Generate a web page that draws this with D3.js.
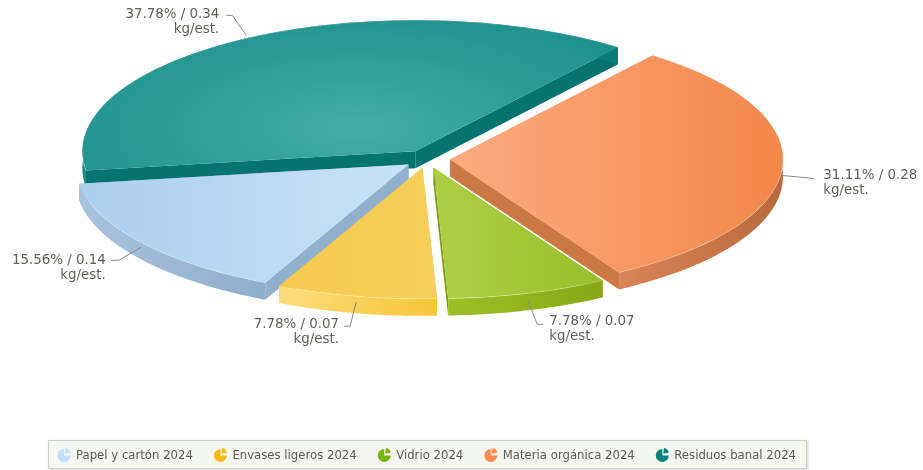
<!DOCTYPE html>
<html><head><meta charset="utf-8">
<script src="https://cdn.jsdelivr.net/npm/d3@7"></script>
<style>html,body{margin:0;padding:0;background:#fff}svg{display:block;filter:blur(.35px)}text{font-family:"DejaVu Sans",sans-serif}</style>
</head><body><svg id="c" width="923" height="470"></svg>
<script>
const categories = ["Papel y cartón 2024","Envases ligeros 2024","Vidrio 2024","Materia orgánica 2024","Residuos banal 2024"];
const kgValues = [0.14,0.07,0.07,0.28,0.34];
const pctLabels = ["15.56%","7.78%","7.78%","31.11%","37.78%"];
const valueLabels = ["0.14","0.07","0.07","0.28","0.34"];
const pctValues = [15.56,7.78,7.78,31.11,37.78];
const unit = "kg/est.";
const legendColors = ["#BFDFFB","#FDB913","#7CB40F","#FA8C4E","#0A7F7B"];
const topFrom = ["#AACFEE","#F6CB4E","#AECE45","#FBAC7F","#44ABA8"];
const topTo = ["#C9E3F8","#F6D05C","#99BF2A","#F4874A","#1C918D"];
const wallFrom = ["#A9C3DD","#FCDD7E","#9CC026","#D98556","#128C87"];
const wallTo = ["#8FAECD","#F6C638","#86A816","#B86A3C","#087C78"];
const sideColors = ["#90B0CE","#E8BC40","#7C9C14","#CC7845","#05736F"];

const svg = d3.select("#c");
const defs = svg.append("defs");
const cx = 427, cy = 159, rx = 333, ry = 131, depth = 17, explode = 23;
const k = ry / rx;
const deg = Math.PI / 180;
const start = 261.5 * deg;
const pie = d3.pie().sort(null).value(d => d).startAngle(start).endAngle(start - 2 * Math.PI);
const arcs = pie(pctValues);
const arcGen = d3.arc().innerRadius(0).outerRadius(rx);
const line = d3.line();

const slices = arcs.map((a, i) => {
  const mid = (a.startAngle + a.endAngle) / 2;
  const ax = cx + explode * Math.sin(mid);
  const ay = cy - explode * k * Math.cos(mid);
  const pt = t => [ax + rx * Math.sin(t), ay - ry * Math.cos(t)];
  return {a, i, mid, ax, ay, pt};
});

function linGrad(id, x1, x2, y1, y2, c1, c2) {
  const g = defs.append("linearGradient").attr("id", id).attr("gradientUnits", "userSpaceOnUse")
    .attr("x1", x1).attr("x2", x2).attr("y1", y1).attr("y2", y2);
  g.append("stop").attr("offset", 0).attr("stop-color", c1);
  g.append("stop").attr("offset", 1).attr("stop-color", c2);
}
const rg = defs.append("radialGradient").attr("id", "topTeal").attr("gradientUnits", "userSpaceOnUse")
  .attr("cx", -60).attr("cy", -60).attr("r", rx);
rg.append("stop").attr("offset", 0).attr("stop-color", topFrom[4]);
rg.append("stop").attr("offset", 1).attr("stop-color", topTo[4]);

// painter's order: back slice first
const order = [4, 3, 0, 1, 2];
order.forEach(i => {
  const s = slices[i], a = s.a;
  const g = svg.append("g");
  const t0 = Math.min(a.startAngle, a.endAngle), t1 = Math.max(a.startAngle, a.endAngle);
  const samples = d3.range(0, 61).map(j => s.pt(t0 + (t1 - t0) * j / 60));
  // radial walls
  [t0, t1].forEach(t => {
    const p = s.pt(t);
    const wall = [[s.ax, s.ay], p, [p[0], p[1] + depth], [s.ax, s.ay + depth]];
    g.append("path").attr("d", line(wall) + "Z").attr("fill", sideColors[i]);
  });
  // outer rim
  const xs = samples.map(p => p[0]);
  linGrad("rim" + i, d3.min(xs), d3.max(xs), 0, 0, wallFrom[i], wallTo[i]);
  const rim = samples.concat(samples.slice().reverse().map(p => [p[0], p[1] + depth]));
  g.append("path").attr("d", line(rim) + "Z").attr("fill", `url(#rim${i})`);
  // top face
  const topId = i === 4 ? "topTeal" : "top" + i;
  if (i !== 4) {
    const local = [s.pt(t0), s.pt(t1), [s.ax, s.ay]].map(p => p[0] - s.ax);
    linGrad(topId, i === 3 ? 0 : d3.min(local), i === 3 ? rx : d3.max(local), 0, 0, topFrom[i], topTo[i]);
  }
  g.append("path")
    .attr("transform", `translate(${s.ax},${s.ay}) scale(1,${k})`)
    .attr("d", arcGen({startAngle: a.startAngle, endAngle: a.endAngle}))
    .attr("fill", `url(#${topId})`);
  // soft highlight on rim's upper edge
  g.append("path").attr("d", line(samples)).attr("fill", "none")
    .attr("stroke", "#fff").attr("stroke-opacity", .22).attr("stroke-width", 1);
});

// leader lines and labels; offsets are relative to each slice's rim point
const leaderLayout = [
  {dy: 5,  knee: [-22, 13], end: [-30, 13], tx: -35, ty: 17, anchor: "end"},
  {dy: 6,  knee: [-6, 24],  end: [-12, 24], tx: -17, ty: 26, anchor: "end"},
  {dy: 8,  knee: [9, 23],   end: [15, 23],  tx: 21,  ty: 24, anchor: "start"},
  {dy: 8,  knee: [32, 3],   end: [32, 3],   tx: 41,  ty: 3, anchor: "start"},
  {dy: -3, knee: [-14, -20],end: [-20, -20],tx: -27, ty: -17, anchor: "end"}
];
slices.forEach((s, i) => {
  const l = leaderLayout[i];
  const p = s.pt(s.mid);
  const p0 = [p[0], p[1] + l.dy];
  const pts = [p0, [p0[0] + l.knee[0], p0[1] + l.knee[1]], [p0[0] + l.end[0], p0[1] + l.end[1]]];
  svg.append("path").attr("d", line(pts)).attr("fill", "none").attr("stroke", "#8a8a82").attr("stroke-width", 1);
  const t = svg.append("text").attr("fill", "#5f5f58").attr("font-size", 13.4).attr("text-anchor", l.anchor)
    .attr("transform", `translate(${p0[0] + l.tx},${p0[1] + l.ty})`);
  t.append("tspan").attr("x", 0).attr("y", 0).text(`${pctLabels[i]} / ${valueLabels[i]}`);
  t.append("tspan").attr("x", 0).attr("y", 15).text(unit);
});

// legend
const shadow = defs.append("filter").attr("id", "ls").attr("x", "-2%").attr("y", "-20%").attr("width", "104%").attr("height", "150%");
shadow.append("feDropShadow").attr("dx", 1).attr("dy", 1).attr("stdDeviation", 1).attr("flood-color", "#000").attr("flood-opacity", .18);
svg.append("rect").attr("x", 48.5).attr("y", 440.5).attr("width", 758).attr("height", 28)
  .attr("fill", "#F4F6F0").attr("stroke", "#CDD1C6").attr("filter", "url(#ls)");
const iconBig = d3.arc().innerRadius(0).outerRadius(6.5).startAngle(Math.PI * .5).endAngle(Math.PI * 2);
const iconSmall = d3.arc().innerRadius(0).outerRadius(5.5).startAngle(.12).endAngle(Math.PI * .5 - .12);
let lx = 76;
categories.forEach((c, i) => {
  const g = svg.append("g");
  g.append("path").attr("transform", `translate(${lx - 12},455.5)`).attr("d", iconBig()).attr("fill", legendColors[i]);
  g.append("path").attr("transform", `translate(${lx - 11},453.5)`).attr("d", iconSmall()).attr("fill", legendColors[i]);
  const t = g.append("text").attr("x", lx).attr("y", 459).attr("font-size", 11.7).attr("fill", "#5a5a52").text(c);
  lx += t.node().getComputedTextLength() + 39.5;
});
</script></body></html>
